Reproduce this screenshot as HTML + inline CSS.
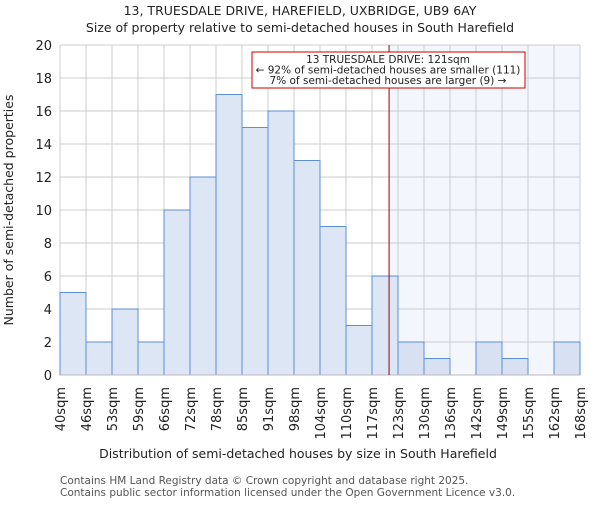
<!DOCTYPE html>
<html><head><meta charset="utf-8"><style>
body{margin:0;background:#fff}
svg text{font-family:"DejaVu Sans","Liberation Sans",sans-serif;fill:#222}
</style></head><body>
<svg id="c" width="600" height="500" xmlns="http://www.w3.org/2000/svg">
<text x="300" y="15" text-anchor="middle" font-size="12.5">13, TRUESDALE DRIVE, HAREFIELD, UXBRIDGE, UB9 6AY</text>
<text x="300" y="32" text-anchor="middle" font-size="12.5">Size of property relative to semi-detached houses in South Harefield</text>
<g id="plot"></g>
<text x="298" y="458" text-anchor="middle" font-size="12.5">Distribution of semi-detached houses by size in South Harefield</text>
<text transform="translate(13,210) rotate(-90)" text-anchor="middle" font-size="12.5">Number of semi-detached properties</text>
<text x="60" y="484" font-size="10.5" style="fill:#555">Contains HM Land Registry data © Crown copyright and database right 2025.</text>
<text x="60" y="496" font-size="10.5" style="fill:#555">Contains public sector information licensed under the Open Government Licence v3.0.</text>
</svg>
<script>
const binLabels=["40sqm","46sqm","53sqm","59sqm","66sqm","72sqm","78sqm","85sqm","91sqm","98sqm","104sqm","110sqm","117sqm","123sqm","130sqm","136sqm","142sqm","149sqm","155sqm","162sqm","168sqm"];
const counts=[5,2,4,2,10,12,17,15,16,13,9,3,6,2,1,0,2,1,0,2];
const yTicks=[0,2,4,6,8,10,12,14,16,18,20];
const binStart=40, binWidth=6.4, propertySize=121;
const X0=60,X1=580,Y0=375,Y1=45;
const x=v=>X0+(v-binStart)/(binWidth*counts.length)*(X1-X0);
const xi=i=>X0+i*(X1-X0)/counts.length;
const y=v=>Y0-(v/20)*(Y0-Y1);
const g=document.getElementById('plot');
const NS="http://www.w3.org/2000/svg";
function mk(t,a){const e=document.createElementNS(NS,t);for(const k in a)e.setAttribute(k,a[k]);g.appendChild(e);return e;}
const px=x(propertySize);
let sh=mk('rect',{x:px,y:Y1,width:X1-px,height:Y0-Y1,fill:'#f4f6fd'});


for(let i=0;i<=counts.length;i++){let l=mk('line',{x1:xi(i),x2:xi(i),y1:Y1,y2:Y0,stroke:'#cccccc','stroke-width':1});

}
yTicks.forEach(t=>{let l=mk('line',{x1:X0,x2:X1,y1:y(t),y2:y(t),stroke:'#cccccc','stroke-width':1});


let tx=mk('text',{x:X0-8,y:y(t)+5,'text-anchor':'end','font-size':13});tx.textContent=t;

});
counts.forEach((c,i)=>{if(c<=0)return;const right=xi(i)>=px-1;
let r=mk('rect',{x:xi(i),y:y(c),width:xi(i+1)-xi(i),height:Y0-y(c),fill:right?'#d7e1f2':'#dce6f4',stroke:'#5b8fd6','stroke-width':1});

});
binLabels.forEach((s,i)=>{let t=mk('text',{transform:`translate(${xi(i)+5},387) rotate(-90)`,'text-anchor':'end','font-size':13});t.textContent=s;

});
let ax=mk('line',{x1:X0,x2:X1,y1:Y0,y2:Y0,stroke:'#bbb'});


let ml=mk('line',{x1:px,x2:px,y1:Y1,y2:Y0,stroke:'#990000','stroke-width':1});


let box=mk('rect',{x:252,y:52,width:273,height:36,fill:'#fff',stroke:'#cc0000','stroke-width':1});


["13 TRUESDALE DRIVE: 121sqm","← 92% of semi-detached houses are smaller (111)","7% of semi-detached houses are larger (9) →"].forEach((s,i)=>{
let t=mk('text',{x:388,y:63+i*10.5,'text-anchor':'middle','font-size':10.5});t.textContent=s;

});
</script>
</body></html>
